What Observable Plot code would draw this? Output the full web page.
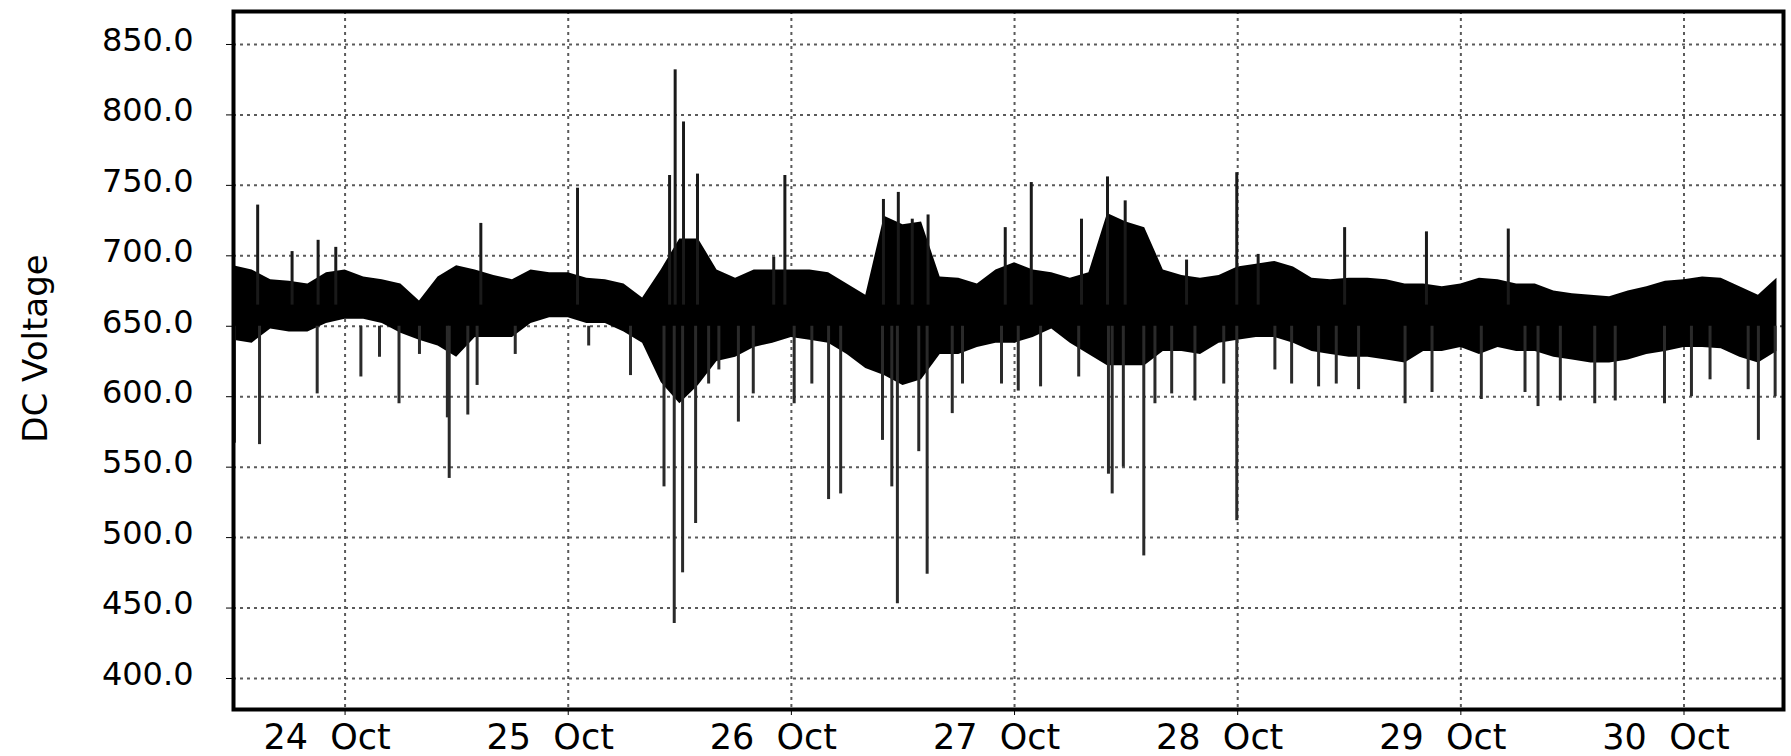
<!DOCTYPE html>
<html>
<head>
<meta charset="utf-8">
<script src="https://cdn.jsdelivr.net/npm/d3@7"></script>
<script src="https://cdn.jsdelivr.net/npm/@observablehq/plot@0.6"></script>
<style>
  html, body { margin: 0; padding: 0; background: #fff; }
  #chart { width: 1791px; height: 756px; overflow: hidden; }
</style>
</head>
<body>
<div id="chart"></div>
<script>
// ---- data ----
const startISO = "2012-10-23T12:00:00Z";
const endHours = 166.7;
const bandStepHours = 2;

// envelope of the dense signal core, one value every 2 hours from the start
const bandHi = [
  693, 690, 683, 682, 680, 688, 690, 685, 683, 680, 668, 685, 693, 690,
  686, 683, 690, 688, 688, 684, 683, 680, 670, 690, 712, 712, 690, 684,
  690, 690, 690, 690, 688, 680, 672, 728, 722, 724, 685, 684, 680, 690,
  695, 690, 688, 684, 688, 730, 724, 720, 690, 686, 684, 686, 692, 694,
  696, 692, 684, 683, 684, 684, 683, 680, 680, 678, 680, 684, 683, 680,
  680, 675, 673, 672, 671, 675, 678, 682, 683, 685, 684, 678, 672, 684
];
const bandLo = [
  640, 638, 648, 646, 646, 652, 655, 655, 652, 645, 640, 636, 628, 642,
  642, 642, 652, 656, 656, 652, 652, 646, 638, 610, 595, 608, 625, 628,
  635, 638, 642, 640, 638, 630, 620, 615, 608, 612, 630, 630, 635, 638,
  638, 642, 648, 638, 630, 622, 622, 622, 632, 632, 630, 638, 640, 642,
  642, 638, 632, 630, 628, 628, 626, 624, 632, 632, 635, 630, 635, 632,
  632, 628, 626, 624, 624, 626, 630, 632, 635, 635, 634, 628, 624, 632
];

// upward spikes: hours from start, peak voltage
const upHours = [2.6, 6.3, 9.1, 11.0, 26.6, 37.0, 46.9, 47.5, 48.4, 49.9, 58.1, 59.3, 69.9, 71.5,
  73.0, 74.7, 83.0, 85.8, 91.2, 94.0, 95.9, 102.5, 107.9, 110.2, 119.5, 128.3, 137.1];
const upValues = [736, 703, 711, 706, 723, 748, 757, 832, 795, 758, 699, 757, 740, 745,
  726, 729, 720, 752, 726, 756, 739, 697, 759, 701, 720, 717, 719];

// downward spikes: hours from start, lowest voltage
const downHours = [0.1, 2.8, 9.0, 13.7, 15.7, 17.8, 20.0, 23.0, 23.2, 25.2, 26.2, 30.3, 38.2, 42.7,
  46.3, 47.4, 48.3, 49.7, 51.1, 52.2, 54.3, 55.9, 60.3, 62.2, 64.0, 65.3, 69.8, 70.8, 71.4, 73.7,
  74.6, 77.3, 78.4, 82.6, 84.4, 86.8, 90.9, 94.1, 94.5, 95.7, 97.9, 99.1, 100.9, 103.4, 106.5,
  107.9, 112.0, 113.8, 116.7, 118.6, 121.0, 126.0, 128.9, 134.2, 138.9, 140.3, 142.7, 146.4,
  148.6, 153.9, 156.8, 158.8, 162.9, 164.0, 165.8];
const downValues = [567, 566, 602, 614, 628, 595, 630, 585, 542, 587, 608, 630, 636, 615,
  536, 439, 475, 510, 609, 619, 582, 602, 595, 609, 527, 531, 569, 536, 453, 561,
  474, 588, 609, 609, 604, 607, 614, 545, 531, 550, 487, 595, 602, 597, 609,
  512, 619, 609, 607, 609, 605, 595, 603, 598, 603, 593, 597, 595,
  597, 595, 600, 612, 605, 569, 600];

// axis ticks
const yTicks = [400, 450, 500, 550, 600, 650, 700, 750, 800, 850];
const tickDays = ["2012-10-24", "2012-10-25", "2012-10-26", "2012-10-27", "2012-10-28", "2012-10-29", "2012-10-30"];
const tickLabels = ["24 Oct", "25 Oct", "26 Oct", "27 Oct", "28 Oct", "29 Oct", "30 Oct"];
const yTitle = "DC Voltage";

// ---- build tables ----
const t0 = new Date(startISO).getTime();
const H = 3600e3;
const band = bandHi.map((hi, i) => ({date: new Date(t0 + i * bandStepHours * H), hi, lo: bandLo[i]}));
const ups = upHours.map((h, i) => ({date: new Date(t0 + h * H), value: upValues[i]}));
const downs = downHours.map((h, i) => ({date: new Date(t0 + h * H), value: downValues[i]}));
const xTicks = tickDays.map(d => new Date(d + "T00:00:00Z"));
const labelOf = new Map(xTicks.map((d, i) => [+d, tickLabels[i].replace(/ /g, "\u00a0\u00a0")]));

const gridStyle = {stroke: "#5a5a5a", strokeWidth: 2, strokeDasharray: "3,4"};

const chart = Plot.plot({
  width: 1791,
  height: 756,
  marginLeft: 233,
  marginRight: 8,
  marginTop: 11,
  marginBottom: 47,
  style: {fontFamily: "DejaVu Sans, sans-serif", fontSize: "32px", color: "#000", background: "#fff"},
  x: {type: "utc", domain: [new Date(t0), new Date(t0 + endHours * H)]},
  y: {domain: [378, 873.4]},
  marks: [
    Plot.ruleY(yTicks, gridStyle),
    Plot.ruleX(xTicks, gridStyle),
    Plot.areaY(band, {x: "date", y1: "lo", y2: "hi", fill: "#000", curve: "linear"}),
    Plot.ruleX(ups, {x: "date", y1: () => 665, y2: "value", stroke: "#1a1a1a", strokeWidth: 3}),
    Plot.ruleX(downs, {x: "date", y1: () => 650, y2: "value", stroke: "#2a2a2a", strokeWidth: 3}),
    Plot.frame({stroke: "#000", strokeWidth: 4}),
    // tick marks
    Plot.axisY(yTicks, {tickSize: 7, tickFormat: () => "", label: null}),
    Plot.axisX(xTicks, {tickSize: 6, tickFormat: () => "", label: null}),
    // tick labels
    Plot.axisY(yTicks, {tickSize: 0, tickPadding: 40, tickFormat: d => d.toFixed(1), fontSize: 32, dy: -4, label: null}),
    Plot.axisX(xTicks, {tickSize: 0, tickPadding: 15, tickFormat: d => labelOf.get(+d), fontSize: 35, dx: -18, label: null}),
    Plot.text([yTitle], {text: d => d, frameAnchor: "left", textAnchor: "middle", dx: -197, dy: -12, rotate: -90, fontSize: 34, fill: "#000"})
  ]
});
document.getElementById("chart").appendChild(chart);
</script>
</body>
</html>
